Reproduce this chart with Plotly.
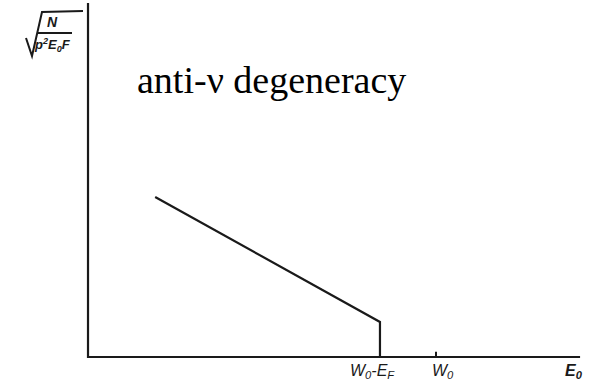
import plotly.graph_objects as go

# Energy axis in units of W0; ordinate in arbitrary units
e_line = [0.193, 0.839, 0.839]
k_line = [0.452, 0.099, 0.0]
w0_minus_ef = 0.839
w0 = 1.0
axis_x_end = 1.414
axis_y_end = 1.0
title_text = "anti-ν degeneracy"

ink = "#1a1a1a"
fig = go.Figure()

# coordinate axes
fig.add_trace(go.Scatter(x=[0, 0, axis_x_end], y=[axis_y_end, 0, 0], mode="lines",
                         line=dict(color=ink, width=2.2), hoverinfo="skip"))
# Kurie line ending at the cut-off W0 - EF
fig.add_trace(go.Scatter(x=e_line, y=k_line, mode="lines",
                         line=dict(color=ink, width=2.2), hoverinfo="skip"))
# small tick at W0
fig.add_trace(go.Scatter(x=[w0, w0], y=[0, 0.015], mode="lines",
                         line=dict(color=ink, width=2), hoverinfo="skip"))

hand = dict(family="Liberation Sans", color=ink)
lab = dict(showarrow=False, xanchor="center", yanchor="middle")
fig.add_annotation(x=w0_minus_ef, y=0, xshift=-7, yshift=-14,
                   text="<i>W<sub>0</sub>-E<sub>F</sub></i>", font=dict(size=16, **hand), **lab)
fig.add_annotation(x=w0, y=0, xshift=7, yshift=-14, text="<i>W<sub>0</sub></i>",
                   font=dict(size=16, **hand), **lab)
fig.add_annotation(x=axis_x_end, y=0, xshift=-6, yshift=-14, text="<i><b>E<sub>0</sub></b></i>",
                   font=dict(size=16, **hand), **lab)
fig.add_annotation(x=0.526, y=0.782, text=title_text,
                   font=dict(family="Liberation Serif", size=38, color="black"), **lab)

# ordinate label: sqrt(N / p^2 E0 F)
fig.add_annotation(xref="paper", yref="paper", x=52 / 603, y=1 - 22 / 382,
                   text="<i><b>N</b></i>", font=dict(size=14, **hand), **lab)
fig.add_annotation(xref="paper", yref="paper", x=52 / 603, y=1 - 45 / 382,
                   text="<i><b>p<sup>2</sup>E<sub>0</sub>F</b></i>",
                   font=dict(size=13, **hand), **lab)
fig.add_shape(type="line", xref="paper", yref="paper", x0=37 / 603, x1=72 / 603,
              y0=1 - 33 / 382, y1=1 - 33 / 382, line=dict(color=ink, width=2))
fig.add_shape(type="path", xref="paper", yref="paper",
              path=f"M {26/603} {1-38/382} L {32/603} {1-56/382} L {42/603} {1-12/382} L {83/603} {1-11/382}",
              line=dict(color=ink, width=2))

fig.update_layout(
    width=603, height=382, margin=dict(l=0, r=0, t=0, b=0),
    paper_bgcolor="white", plot_bgcolor="white", showlegend=False,
    xaxis=dict(range=[-0.2529, 1.4799], visible=False, fixedrange=True),
    yaxis=dict(range=[-0.0706, 1.0085], visible=False, fixedrange=True),
)
fig.write_html("out.html")
